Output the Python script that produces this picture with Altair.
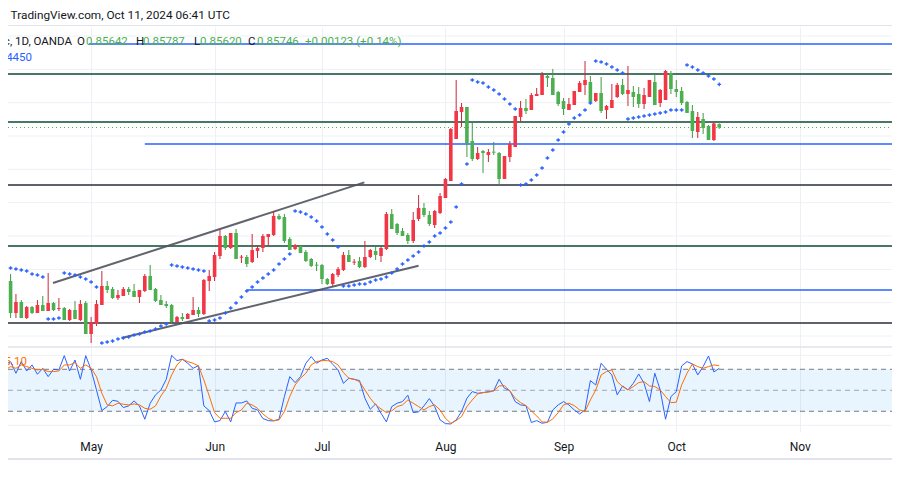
import altair as alt
import pandas as pd

# ---------------- data ----------------
opens = [0.9056,0.9035,0.9131,0.9098,0.9146,0.9113,0.9131,0.9107,0.9125,0.9101,
0.9119,0.9116,0.9152,0.9122,0.9152,0.9101,0.9194,0.9164,0.9107,0.9050,
0.9059,0.9086,0.9080,0.9059,0.9065,0.9083,0.9065,0.9020,0.9059,0.9092,
0.9104,0.9107,0.9158,0.9143,0.9149,0.9137,0.9122,0.9134,0.9035,0.9023,
0.8960,0.8900,0.8936,0.8891,0.8965,0.8963,0.8978,0.8945,0.8936,0.8903,
0.8897,0.8840,0.8843,0.8909,0.8939,0.8930,0.8948,0.8969,0.8986,0.8987,
0.9029,0.9044,0.9017,0.9002,0.8957,0.8980,0.8975,0.8993,0.8963,0.8945,
0.8960,0.8939,0.8834,0.8864,0.8885,0.8897,0.8915,0.8849,0.8816,0.8837,
0.8867,0.8831,0.8786,0.8735,0.8609,0.8528,0.8513,0.8615,0.8669,0.8645,
0.8657,0.8647,0.8651,0.8729,0.8663,0.8633,0.8543,0.8516,0.8522,0.8480,
0.8477,0.8420,0.8426,0.8468,0.8495,0.8522,0.8507,0.8468,0.8447,0.8438,
0.8495,0.8471,0.8522,0.8516,0.8483,0.8447,0.8474,0.8468,0.8474,0.8504,
0.8483,0.8438,0.8501,0.8492,0.8411,0.8459,0.8465,0.8498,0.8525,0.8588,
0.8549,0.8570,0.8612,0.85642]
highs = [0.9071,0.9146,0.9146,0.9146,0.9149,0.9134,0.9131,0.9125,0.9125,0.9125,
0.9125,0.9152,0.9155,0.9149,0.9155,0.9194,0.9221,0.9170,0.9107,0.9071,
0.9089,0.9092,0.9080,0.9077,0.9083,0.9101,0.9068,0.9062,0.9098,0.9107,
0.9116,0.9158,0.9158,0.9155,0.9149,0.9137,0.9143,0.9137,0.9065,0.9035,
0.8969,0.8942,0.8939,0.8969,0.8981,0.8993,0.8981,0.8966,0.8948,0.8930,
0.8900,0.8852,0.8921,0.8942,0.8942,0.8951,0.8978,0.8993,0.9005,0.9044,
0.9047,0.9050,0.9023,0.9005,0.8978,0.8987,0.8996,0.8996,0.8966,0.8972,
0.8978,0.8942,0.8879,0.8897,0.8900,0.8924,0.8921,0.8855,0.8843,0.8870,
0.8876,0.8834,0.8786,0.8735,0.8609,0.8573,0.8663,0.8675,0.8672,0.8711,
0.8678,0.8657,0.8747,0.8729,0.8678,0.8633,0.8558,0.8534,0.8522,0.8480,
0.8477,0.8453,0.8477,0.8510,0.8537,0.8522,0.8507,0.8468,0.8477,0.8498,
0.8498,0.8531,0.8549,0.8516,0.8486,0.8477,0.8510,0.8513,0.8516,0.8519,
0.8483,0.8507,0.8513,0.8492,0.8474,0.8483,0.8507,0.8531,0.8606,0.8606,
0.8594,0.8612,0.8615,0.85787]
lows = [0.9011,0.9014,0.9074,0.9092,0.9110,0.9110,0.9092,0.9080,0.9011,0.9098,
0.9086,0.9113,0.9119,0.9095,0.9092,0.9095,0.9143,0.9092,0.9005,0.9035,
0.9053,0.9062,0.9053,0.9053,0.9044,0.9062,0.9014,0.8987,0.9056,0.9077,
0.9095,0.9104,0.9140,0.9131,0.9131,0.9083,0.9113,0.9029,0.9002,0.8948,
0.8879,0.8897,0.8891,0.8879,0.8957,0.8957,0.8894,0.8930,0.8894,0.8894,
0.8825,0.8834,0.8834,0.8903,0.8924,0.8927,0.8942,0.8966,0.8978,0.8984,
0.9026,0.9011,0.8993,0.8948,0.8942,0.8969,0.8963,0.8915,0.8939,0.8933,
0.8933,0.8828,0.8819,0.8861,0.8876,0.8891,0.8828,0.8777,0.8801,0.8825,
0.8822,0.8771,0.8726,0.8576,0.8432,0.8501,0.8513,0.8561,0.8633,0.8642,
0.8639,0.8618,0.8648,0.8660,0.8615,0.8540,0.8495,0.8489,0.8471,0.8456,
0.8408,0.8411,0.8399,0.8465,0.8486,0.8486,0.8465,0.8435,0.8375,0.8420,
0.8471,0.8423,0.8507,0.8444,0.8441,0.8429,0.8390,0.8450,0.8453,0.8456,
0.8432,0.8414,0.8459,0.8402,0.8405,0.8432,0.8453,0.8495,0.8507,0.8528,
0.8531,0.8567,0.8558,0.85620]
closes = [0.9035,0.9131,0.9098,0.9146,0.9113,0.9131,0.9107,0.9125,0.9101,0.9122,
0.9116,0.9152,0.9122,0.9149,0.9104,0.9194,0.9158,0.9104,0.9050,0.9062,
0.9086,0.9077,0.9059,0.9068,0.9083,0.9062,0.9020,0.9062,0.9095,0.9107,
0.9110,0.9158,0.9143,0.9149,0.9134,0.9122,0.9134,0.9032,0.9020,0.8957,
0.8900,0.8936,0.8891,0.8969,0.8962,0.8984,0.8942,0.8936,0.8900,0.8894,
0.8840,0.8849,0.8915,0.8942,0.8927,0.8951,0.8975,0.8990,0.8989,0.9029,
0.9044,0.9014,0.8999,0.8957,0.8978,0.8977,0.8993,0.8963,0.8942,0.8957,
0.8936,0.8834,0.8879,0.8891,0.8900,0.8915,0.8852,0.8816,0.8837,0.8864,
0.8825,0.8780,0.8729,0.8579,0.8525,0.8513,0.8621,0.8669,0.8651,0.8651,
0.8648,0.8650,0.8729,0.8660,0.8624,0.8540,0.8516,0.8525,0.8477,0.8474,
0.8417,0.8426,0.8477,0.8504,0.8519,0.8504,0.8465,0.8441,0.8432,0.8498,
0.8471,0.8525,0.8510,0.8492,0.8447,0.8474,0.8462,0.8483,0.8504,0.8477,
0.8432,0.8507,0.8462,0.8405,0.8459,0.8468,0.8501,0.8531,0.8585,0.8543,
0.8576,0.8612,0.85623,0.85746]
sar = [0.9089,0.8996,0.8999,0.9002,0.9005,0.9014,0.9017,0.9023,0.9149,0.9149,
0.9146,0.9011,0.9014,0.9017,0.9023,0.9029,0.9038,0.9053,0.9221,0.9218,
0.9215,0.9209,0.9206,0.9203,0.9197,0.9194,0.9188,0.9185,0.9179,0.9170,
0.9164,0.8987,0.8990,0.8993,0.8996,0.8999,0.9002,0.9005,0.9155,0.9152,
0.9146,0.9131,0.9116,0.9101,0.9083,0.9065,0.9053,0.9038,0.9026,0.9014,
0.9002,0.8984,0.8969,0.8954,0.8825,0.8828,0.8834,0.8843,0.8855,0.8873,
0.8894,0.8912,0.8933,0.9050,0.9050,0.9047,0.9044,0.9044,0.9038,0.9032,
0.9029,0.9023,0.9011,0.8999,0.8984,0.8972,0.8960,0.8948,0.8930,0.8918,
0.8900,0.8891,0.8876,0.8858,0.8813,0.8744,0.8684,0.8432,0.8438,0.8441,
0.8453,0.8462,0.8474,0.8489,0.8504,0.8519,0.8747,0.8744,0.8732,0.8717,
0.8696,0.8666,0.8642,0.8612,0.8588,0.8564,0.8546,0.8537,0.8522,0.8501,
0.8375,0.8378,0.8384,0.8393,0.8402,0.8411,0.8549,0.8546,0.8543,0.8540,
0.8537,0.8534,0.8531,0.8528,0.8522,0.8522,0.8522,0.8387,0.8393,0.8402,
0.8411,0.8420,0.8429,0.8445]
stoch_k = [86.2,91.0,74.3,91.0,77.6,86.2,72.9,81.4,69.5,80.0,
79.1,99.5,77.6,93.3,65.7,99.5,79.1,50.5,21.0,26.7,
35.7,34.3,25.3,27.7,34.8,27.7,8.6,31.5,43.4,50.5,
65.7,99.9,92.4,94.3,88.6,81.4,85.2,27.7,21.0,4.8,
6.7,19.6,4.8,31.9,31.9,34.8,24.3,21.9,9.6,6.7,
6.2,8.6,41.0,69.5,61.0,69.5,88.6,98.1,88.6,93.3,
95.7,87.2,79.1,60.0,67.2,65.7,63.8,38.6,22.9,30.5,
17.2,4.8,26.7,31.5,33.8,42.9,18.1,19.1,27.7,38.1,
26.7,7.7,2.4,1.9,7.7,19.6,38.6,48.1,45.7,46.7,
48.1,49.5,65.7,52.9,49.5,33.8,29.1,28.1,3.9,6.7,
2.9,4.3,21.9,29.1,33.8,29.1,21.9,16.2,21.9,63.8,
57.6,88.6,80.0,71.9,43.4,56.2,50.5,60.0,73.3,60.0,
33.8,74.3,50.5,8.6,41.0,48.1,84.8,91.0,87.6,71.9,
83.8,99.0,76.2,81.4]
stoch_d = [79.1,83.8,81.4,86.2,83.8,81.4,79.1,80.0,76.7,76.7,
77.6,86.2,86.2,89.5,81.4,86.2,81.4,69.5,45.7,29.1,
27.7,31.5,30.0,29.1,30.5,29.1,24.3,22.9,27.7,41.9,
52.9,71.9,86.2,94.3,91.0,88.6,84.8,64.8,41.9,18.1,
10.0,10.0,10.0,18.1,21.9,31.5,29.1,24.3,16.2,10.0,
6.7,7.7,19.6,41.0,57.6,67.2,74.3,86.2,91.0,92.4,
92.4,91.0,86.2,75.3,67.2,65.7,62.4,50.5,38.6,29.1,
23.4,18.1,20.5,26.7,29.1,36.2,31.5,26.7,21.9,26.7,
29.1,21.9,10.0,2.9,6.7,12.4,26.7,36.2,44.8,46.7,
47.2,49.1,56.2,56.7,49.1,38.6,32.4,28.1,20.5,13.4,
4.8,4.3,9.1,18.1,29.1,31.5,28.1,21.9,19.6,36.2,
50.5,71.9,76.7,79.1,62.4,55.3,50.5,55.3,61.0,62.4,
56.2,55.3,50.5,41.0,32.4,32.9,57.6,74.3,87.6,83.8,
81.4,83.8,86.2,85.1]
bar_idx = list(range(len(opens)))

month_idx = [16, 39, 59, 82, 104, 125, 148]
month_lab = ["May", "Jun", "Jul", "Aug", "Sep", "Oct", "Nov"]

price_grid = [0.83, 0.84, 0.85, 0.86, 0.87, 0.88, 0.89, 0.90, 0.91, 0.92]
stoch_grid = [0, 100]
stoch_dash = [80, 50, 20]
stoch_dash_kind = ["edge", "mid", "edge"]

level_price = [0.8324, 0.8414, 0.8558, 0.8624, 0.8747, 0.8930, 0.9062, 0.9161]
level_start = [15.6, 0, 0, 26, 0, 0, 45, 0]
level_kind = ["blue", "green", "green", "blue", "black", "green", "blue", "black"]

trend_x1 = [8.9, 21.7]
trend_p1 = [0.9041, 0.9206]
trend_x2 = [66.9, 77.0]
trend_p2 = [0.8739, 0.8989]

header_txt = ["Published on TradingView.com, Oct 11, 2024 06:41 UTC"]
symbol_txt = ["U.S. Dollar/Swiss Franc, 1D, OANDA"]

# ---------------- tables ----------------
W, H = 884, 405
df = pd.DataFrame({"i": bar_idx, "open": opens, "high": highs, "low": lows,
                   "close": closes, "sar": sar, "k": stoch_k, "d": stoch_d})
lv = pd.DataFrame({"p": level_price, "s": level_start, "kind": level_kind,
                   "e": [170] * len(level_price)})
tr = pd.DataFrame({"x1": trend_x1, "p1": trend_p1, "x2": trend_x2, "p2": trend_p2})

xs = alt.Scale(domain=[1.45, 164.25], nice=False, zero=False)
ps = alt.Scale(domain=[0.8273, 0.9488], reverse=True, zero=False, nice=False)
ss = alt.Scale(domain=[-9.6, 569], zero=False, nice=False)

FONT = "Roboto"
lab_expr = "''"
for v, m in zip(reversed(month_idx), reversed(month_lab)):
    lab_expr = f"datum.value == {v} ? '{m}' : ({lab_expr})"
x_axis = alt.Axis(values=month_idx, labelExpr=lab_expr, grid=True, gridColor="#eef0f5",
                  gridWidth=1, domain=False, ticks=False, labelPadding=14,
                  labelBaseline="middle", labelFontSize=12, labelColor="#131722",
                  labelFont=FONT, title=None, labelFlush=False, labelOverlap=False)

def X(f):
    return alt.X(f, type="quantitative", scale=xs, axis=x_axis)

GREEN, RED = "#4caf50", "#f23645"

band = alt.Chart(pd.DataFrame({"lo": [20], "hi": [80]})).mark_rect(
    color="#2196f3", opacity=0.1).encode(
    x=alt.value(0), x2=alt.value(W),
    y=alt.Y("lo:Q", scale=ss, axis=None), y2="hi:Q")

sgrid = alt.Chart(pd.DataFrame({"v": stoch_grid})).mark_rule(
    color="#eef0f5", strokeWidth=1).encode(
    x=alt.value(0), x2=alt.value(W), y=alt.Y("v:Q", scale=ss, axis=None))

sdash = alt.Chart(pd.DataFrame({"v": stoch_dash, "kind": stoch_dash_kind})).mark_rule(
    strokeWidth=1, strokeDash=[5, 4]).encode(
    x=alt.value(0), x2=alt.value(W), y=alt.Y("v:Q", scale=ss, axis=None),
    color=alt.Color("kind:N", scale=alt.Scale(domain=["edge", "mid"],
                    range=["#787b86", "#a3a6af"]), legend=None))

pgrid = alt.Chart(pd.DataFrame({"v": price_grid})).mark_rule(
    color="#eef0f5", strokeWidth=1).encode(
    x=alt.value(0), x2=alt.value(W), y=alt.Y("v:Q", scale=ps, axis=None))

levels = alt.Chart(lv).mark_rule(strokeWidth=1.6, clip=True).encode(
    x=X("s"), x2="e:Q", y=alt.Y("p:Q", scale=ps, axis=None),
    color=alt.Color("kind:N", scale=alt.Scale(domain=["blue", "green", "black"],
                    range=["#2962ff", "#0b4a36", "#2a2e39"]), legend=None))

last_line = alt.Chart(df).transform_filter(f"datum.i == {bar_idx[-1]}").mark_rule(
    color=GREEN, strokeWidth=1, strokeDash=[1, 3]).encode(
    x=alt.value(0), x2=alt.value(W), y=alt.Y("close:Q", scale=ps, axis=None))

trends = alt.Chart(tr).mark_rule(color="#50535e", strokeWidth=2, opacity=0.9).encode(
    x=X("x1"), x2="x2:Q", y=alt.Y("p1:Q", scale=ps, axis=None), y2="p2:Q")

dir_color = alt.Color("dir:N", scale=alt.Scale(domain=["up", "down"], range=[GREEN, RED]),
                      legend=None)
wick_color = alt.Color("dir:N", scale=alt.Scale(domain=["up", "down"],
                       range=["#3f9a43", "#c8283a"]), legend=None)
cbase = alt.Chart(df).transform_calculate(
    dir="datum.close >= datum.open ? 'up' : 'down'")
wicks = cbase.mark_rule(strokeWidth=1, clip=True).encode(
    x=X("i"), y=alt.Y("low:Q", scale=ps, axis=None), y2="high:Q", color=wick_color)
bodies = cbase.mark_bar(size=3.6, clip=True).encode(
    x=X("i"), y=alt.Y("open:Q", scale=ps, axis=None), y2="close:Q", color=dir_color)

sar_pts = alt.Chart(df).mark_point(shape="M-1,0L1,0M0,-1L0,1", filled=False,
                                   strokeWidth=1.3, size=14, color="#2962ff",
                                   opacity=1, clip=True).encode(
    x=X("i"), y=alt.Y("sar:Q", scale=ps, axis=None))

k_line = alt.Chart(df).mark_line(color="#2962ff", strokeWidth=1, clip=True).encode(
    x=X("i"), y=alt.Y("k:Q", scale=ss, axis=None))
d_line = alt.Chart(df).mark_line(color="#ff6d00", strokeWidth=1, clip=True).encode(
    x=X("i"), y=alt.Y("d:Q", scale=ss, axis=None))

sep_top = alt.Chart(pd.DataFrame({"a": [0]})).mark_rule(color="#e0e3eb", strokeWidth=1).encode(
    x=alt.value(0), x2=alt.value(W), y=alt.value(-1.5))
sep_mid = alt.Chart(pd.DataFrame({"a": [0]})).mark_rule(color="#e0e3eb", strokeWidth=1.5).encode(
    x=alt.value(0), x2=alt.value(W), y=alt.value(320))
sep_bot = alt.Chart(pd.DataFrame({"a": [0]})).mark_rule(color="#e0e3eb", strokeWidth=2).encode(
    x=alt.value(0), x2=alt.value(W), y=alt.value(432))

def txt(s, x, y, color="#131722", align="left", size=11.5):
    return alt.Chart(pd.DataFrame({"t": [s]})).mark_text(
        align=align, baseline="middle", font=FONT, fontSize=size, color=color).encode(
        x=alt.value(x), y=alt.value(y), text="t:N")

o, h, l, c = opens[-1], highs[-1], lows[-1], closes[-1]
chg = c - closes[-2]
pct = chg / closes[-2] * 100
texts = [
    txt(header_txt[0], 222, -12, align="right", size=11.8),
    txt(symbol_txt[0], 64, 15, align="right"),
    txt("O", 69, 15), txt(f"{o:.5f}", 78, 15, color=GREEN),
    txt("H", 128, 15), txt(f"{h:.5f}", 135, 15, color=GREEN),
    txt("L", 186, 15), txt(f"{l:.5f}", 192, 15, color=GREEN),
    txt("C", 240, 15), txt(f"{c:.5f}", 249, 15, color=GREEN),
    txt(f"{chg:+.5f} ({pct:+.2f}%)", 297, 15, color=GREEN),
    txt(f"{sar[-1]:.5f}", 24, 31, color="#2962ff", align="right"),
    txt(f"{stoch_d[-1]:.2f}", 19, 335, color="#ff6d00", align="right"),
]

chart = alt.layer(
    band, sgrid, pgrid, sdash, levels, last_line, trends, wicks, bodies, sar_pts,
    k_line, d_line, sep_top, sep_mid, sep_bot, *texts
).resolve_scale(y="independent", color="independent").properties(
    width=W, height=H,
    padding={"left": 0, "top": 19, "right": 0, "bottom": 52},
    autosize=alt.AutoSizeParams(type="none"),
    background="white",
).configure_view(stroke=None)

chart.save("out.html", embed_options={"renderer": "svg", "actions": False})
